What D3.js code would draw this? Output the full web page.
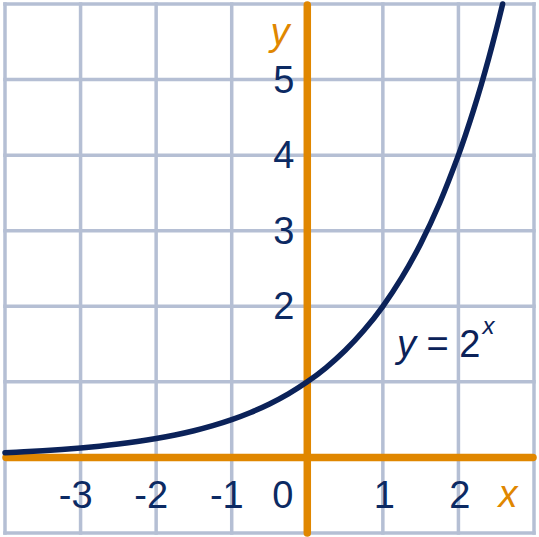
<!DOCTYPE html>
<html><head><meta charset="utf-8">
<script src="https://cdn.jsdelivr.net/npm/d3@7"></script>
<style>html,body{margin:0;padding:0;background:#fff}svg{display:block}</style>
</head><body>
<svg id="c" width="539" height="537"></svg>
<script>
const xDomain = [-4, 3];
const yDomain = [-1, 6];
const gridX = [-4, -3, -2, -1, 0, 1, 2, 3];
const gridY = [-1, 0, 1, 2, 3, 4, 5, 6];
const xTickValues = [-3, -2, -1, 0, 1, 2];
const xTickLabels = ["-3", "-2", "-1", "0", "1", "2"];
const yTickValues = [2, 3, 4, 5];
const yTickLabels = ["2", "3", "4", "5"];
const curveX = [-4,-3.75,-3.5,-3.25,-3,-2.75,-2.5,-2.25,-2,-1.75,-1.5,-1.25,-1,-0.75,-0.5,-0.25,0,0.25,0.5,0.75,1,1.25,1.5,1.75,2,2.1,2.2,2.3,2.4,2.5,2.585];
const curveY = [0.0625,0.0743,0.0884,0.1051,0.125,0.1487,0.1768,0.2102,0.25,0.2973,0.3536,0.4204,0.5,0.5946,0.7071,0.8409,1,1.1892,1.4142,1.6818,2,2.3784,2.8284,3.3636,4,4.2871,4.5948,4.9246,5.278,5.6569,6];

const svg = d3.select("#c");
const x = d3.scaleLinear().domain(xDomain).range([5, 534]);
const y = d3.scaleLinear().domain(yDomain).range([533, 4]);

const gridCol = "#b5bfd4", orange = "#e08700", navy = "#0b2259", labelCol = "#0c2a63";
const font = "'Liberation Sans', Arial, sans-serif";

svg.append("g").selectAll("line").data(gridX).join("line")
  .attr("x1", d => x(d)).attr("x2", d => x(d)).attr("y1", y(yDomain[0])).attr("y2", y(yDomain[1]))
  .attr("stroke", gridCol).attr("stroke-width", 3.5).attr("stroke-linecap", "square");
svg.append("g").selectAll("line").data(gridY).join("line")
  .attr("y1", d => y(d)).attr("y2", d => y(d)).attr("x1", x(xDomain[0])).attr("x2", x(xDomain[1]))
  .attr("stroke", gridCol).attr("stroke-width", 3.5).attr("stroke-linecap", "square");

// axes
svg.append("line").attr("x1", x(0)).attr("x2", x(0)).attr("y1", 5).attr("y2", 533)
  .attr("stroke", orange).attr("stroke-width", 7.5).attr("stroke-linecap", "round");
svg.append("line").attr("x1", 6).attr("x2", 533).attr("y1", y(0)).attr("y2", y(0))
  .attr("stroke", orange).attr("stroke-width", 7.5).attr("stroke-linecap", "round");

// curve
const pts = curveX.map((v, i) => [v, curveY[i]]);
svg.append("path").datum(pts)
  .attr("d", d3.line().x(d => x(d[0])).y(d => y(d[1])).curve(d3.curveCatmullRom))
  .attr("fill", "none").attr("stroke", navy).attr("stroke-width", 5.5).attr("stroke-linecap", "round");

// tick labels
svg.append("g").selectAll("text").data(xTickValues).join("text")
  .attr("x", (d) => d === 0 ? x(d) - 14 : x(d) + 12)
  .attr("y", 508)
  .attr("text-anchor", "end")
  .attr("font-family", font).attr("font-size", 38).attr("fill", labelCol)
  .text((d, i) => xTickLabels[i]);
svg.append("g").selectAll("text").data(yTickValues).join("text")
  .attr("x", x(0) - 13)
  .attr("y", d => y(d) + 13)
  .attr("text-anchor", "end")
  .attr("font-family", font).attr("font-size", 38).attr("fill", labelCol)
  .text((d, i) => yTickLabels[i]);

// axis names
svg.append("text").attr("x", 280).attr("y", 45).attr("text-anchor", "middle")
  .attr("font-family", font).attr("font-size", 38).attr("font-style", "italic").attr("fill", orange).text("y");
svg.append("text").attr("x", 508).attr("y", 507).attr("text-anchor", "middle")
  .attr("font-family", font).attr("font-size", 38).attr("font-style", "italic").attr("fill", orange).text("x");

// function label
const t = svg.append("text").attr("x", 397).attr("y", 357)
  .attr("font-family", font).attr("font-size", 38).attr("fill", navy);
t.append("tspan").attr("font-style", "italic").text("y");
t.append("tspan").text(" = 2");
t.append("tspan").attr("font-style", "italic").attr("font-size", 24).attr("dy", -23).attr("dx", 2).text("x");
</script>
</body></html>
